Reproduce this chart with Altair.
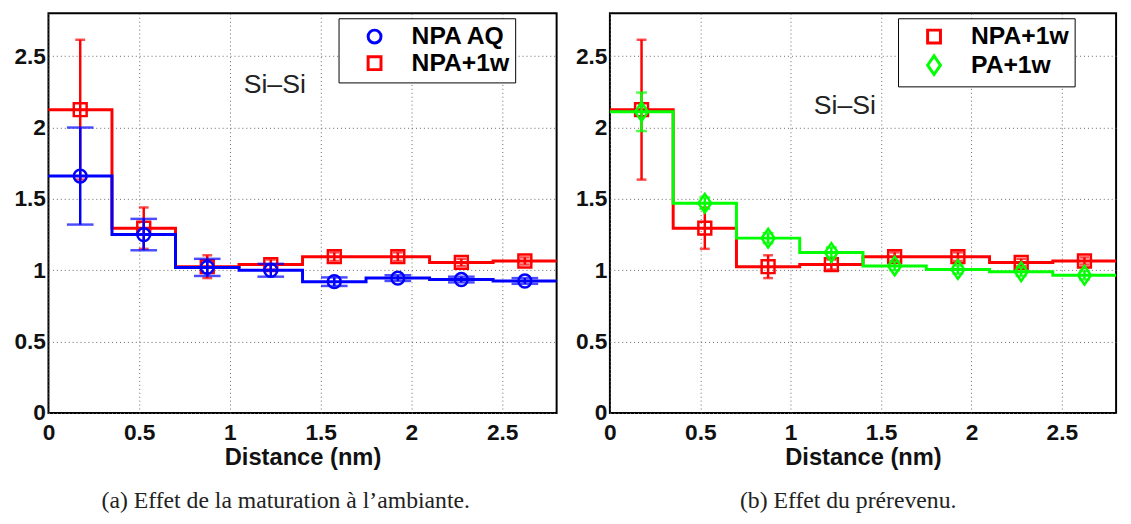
import altair as alt
import pandas as pd

# ---- data ----
centers = [0.175, 0.525, 0.875, 1.225, 1.575, 1.925, 2.275, 2.625]
bin_width = 0.35

npa_aq = [1.66, 1.25, 1.02, 1.00, 0.92, 0.945, 0.935, 0.925]
npa_aq_err = [0.34, 0.11, 0.06, 0.045, 0.03, 0.02, 0.02, 0.02]

npa_1w = [2.125, 1.295, 1.025, 1.04, 1.095, 1.095, 1.055, 1.065]
npa_1w_err = [0.49, 0.145, 0.08, 0.035, 0.03, 0.03, 0.025, 0.025]

pa_1w = [2.11, 1.47, 1.225, 1.125, 1.03, 1.005, 0.99, 0.965]
pa_1w_err = [0.135, 0.04, 0.035, 0.035, 0.03, 0.03, 0.03, 0.03]

tick_values = [0, 0.5, 1, 1.5, 2, 2.5]
axis_max = 2.8

note_text = "Si\u2013Si"
note_left = (1.247, 2.30)
note_right = (1.30, 2.15)

caption_a = "(a)  Effet de la maturation \u00e0 l\u2019ambiante."
caption_b = "(b)  Effet du pr\u00e9revenu."

SANS = "Liberation Sans, Arial, Helvetica, sans-serif"
SERIF = "Liberation Serif, Times New Roman, serif"
TALL_DIAMOND = "M0,-1.45L1,0L0,1.45L-1,0Z"


def yscale():
    return alt.Scale(domain=[0, axis_max], nice=False, zero=False)


X = alt.X("x:Q", scale=alt.Scale(domain=[0, axis_max], nice=False, zero=False),
          axis=alt.Axis(values=tick_values, format="~g", title="Distance (nm)"))


def frames(name, vals, errs):
    pts = pd.DataFrame({
        "x": centers,
        "y": vals,
        "lo": [v - e for v, e in zip(vals, errs)],
        "hi": [v + e for v, e in zip(vals, errs)],
        "serie": name,
    })
    edges = [c - bin_width / 2 for c in centers] + [centers[-1] + bin_width / 2]
    step = pd.DataFrame({"x": edges, "y": list(vals) + [vals[-1]], "serie": name})
    return pts, step


def panel(series, draw_order, colors, shapes, caps, legend_x, width, yextent, note, caption):
    yax = alt.Axis(values=tick_values, format="~g", title=None,
                   minExtent=yextent, maxExtent=yextent)
    Y = alt.Y("y:Q", scale=yscale(), axis=yax)
    names = [s[0] for s in series]
    cscale = alt.Scale(domain=names, range=colors)
    sscale = alt.Scale(domain=names, range=shapes)
    leg = alt.Legend(title=None, orient="none", legendX=legend_x, legendY=5,
                     fillColor="white", strokeColor="black",
                     padding=6, rowPadding=0, symbolOffset=18, labelOffset=25,
                     labelFont=SANS, labelFontSize=25, labelFontWeight="bold",
                     labelColor="black", symbolSize=170, symbolStrokeWidth=3,
                     symbolFillColor="white")
    layers = []
    for idx in draw_order:
        name, vals, errs = series[idx]
        col = colors[idx]
        pts, step = frames(name, vals, errs)
        color_enc = alt.Color("serie:N", scale=cscale, legend=leg)
        shape_enc = alt.Shape("serie:N", scale=sscale, legend=leg)
        line = alt.Chart(step).mark_line(interpolate="step-after", strokeWidth=3,
                                         color=col).encode(x=X, y=Y)
        rule = alt.Chart(pts).mark_rule(strokeWidth=2.5, color=col).encode(
            x=X, y=alt.Y("lo:Q", scale=yscale(), axis=yax), y2="hi:Q")
        cap_lo = alt.Chart(pts).mark_tick(orient="horizontal", size=caps[idx], thickness=2.5,
                                          color=col).encode(
            x=X, y=alt.Y("lo:Q", scale=yscale(), axis=yax))
        cap_hi = alt.Chart(pts).mark_tick(orient="horizontal", size=caps[idx], thickness=2.5,
                                          color=col).encode(
            x=X, y=alt.Y("hi:Q", scale=yscale(), axis=yax))
        point = alt.Chart(pts).mark_point(filled=False, size=170, strokeWidth=2.5,
                                          opacity=1).encode(
            x=X, y=Y, color=color_enc, shape=shape_enc)
        layers += [line, rule, cap_lo, cap_hi, point]
    txt = alt.Chart(pd.DataFrame({"x": [note[0]], "y": [note[1]], "t": [note_text]})).mark_text(
        font=SANS, fontSize=27, color="#222").encode(x=X, y=Y, text="t:N")
    layers.append(txt)
    return alt.layer(*layers).properties(
        width=width, height=405,
        title=alt.TitleParams(caption, orient="bottom", font=SERIF, fontSize=24,
                              fontWeight="normal", color="#222", offset=20,
                              anchor="middle", frame="bounds"))


left = panel(
    series=[("NPA AQ", npa_aq, npa_aq_err), ("NPA+1w", npa_1w, npa_1w_err)],
    draw_order=[1, 0],
    colors=["#0000ff", "#ff0000"], shapes=["circle", "square"], caps=[27, 10],
    legend_x=294, width=515, yextent=40, note=note_left, caption=caption_a)

right = panel(
    series=[("NPA+1w", npa_1w, npa_1w_err), ("PA+1w", pa_1w, pa_1w_err)],
    draw_order=[0, 1],
    colors=["#ff0000", "#00ff00"], shapes=["square", TALL_DIAMOND], caps=[10, 11],
    legend_x=292, width=513, yextent=36, note=note_right, caption=caption_b)

chart = alt.hconcat(left, right, spacing=10).resolve_scale(
    color="independent", shape="independent").resolve_legend(
    color="independent", shape="independent").configure_view(
    stroke="black", strokeWidth=2).configure_axis(
    labelFont=SANS, labelFontSize=23, labelFontWeight="bold", labelColor="#111",
    labelFlush=False,
    titleFont=SANS, titleFontSize=24, titleFontWeight="bold", titleColor="#111",
    ticks=False, domain=False, grid=True, gridColor="#666", gridDash=[1, 3],
    gridWidth=1).configure_axisY(labelPadding=3).configure_axisX(
    labelPadding=9, titlePadding=1).properties(
    padding={"left": 0, "top": 1, "right": 0, "bottom": 0})

chart.save("out.html", embed_options={"renderer": "svg", "actions": False})
